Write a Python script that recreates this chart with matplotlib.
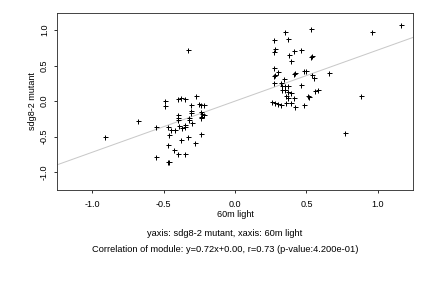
import numpy as np
import matplotlib
matplotlib.use("Agg")
import matplotlib.pyplot as plt

plt.rcParams['font.family'] = ['Liberation Sans', 'DejaVu Sans']

# 60m light (x) vs sdg8-2 mutant (y)
x_vals = [-0.91, -0.68, -0.55, -0.55, -0.49, -0.49, -0.47, -0.47, -0.46, -0.47,
          -0.45, -0.46, -0.43, -0.42, -0.40, -0.40, -0.38, -0.35, -0.40, -0.40,
          -0.40, -0.39, -0.37, -0.35, -0.35, -0.38, -0.35, -0.33, -0.33, -0.32,
          -0.32, -0.31, -0.31, -0.30, -0.31, -0.27, -0.25, -0.24, -0.22, -0.24,
          -0.23, -0.22, -0.24, -0.24, -0.24, -0.28,
          0.35, 0.53, 0.27, 0.37, 0.28, 0.27, 0.41, 0.38, 0.46, 0.53,
          0.54, 0.39, 0.27, 0.30, 0.27, 0.28, 0.41, 0.42, 0.48, 0.50,
          0.66, 0.54, 0.55, 0.34, 0.27, 0.32, 0.33, 0.35, 0.37, 0.46,
          0.33, 0.35, 0.37, 0.39, 0.36, 0.37, 0.41, 0.51, 0.52, 0.56,
          0.58, 0.26, 0.28, 0.30, 0.32, 0.36, 0.39, 0.42, 0.48, 0.88,
          0.77, 0.96, 1.16]
y_vals = [-0.51, -0.28, -0.37, -0.79, 0.00, -0.07, -0.61, -0.86, -0.85, -0.37,
          -0.40, -0.48, -0.69, -0.40, -0.75, 0.03, 0.04, 0.03, -0.20, -0.24,
          -0.26, -0.35, -0.38, -0.37, -0.34, -0.55, -0.74, -0.51, 0.72, -0.24,
          -0.26, -0.14, -0.17, -0.31, -0.06, 0.07, -0.04, -0.06, -0.06, -0.15,
          -0.18, -0.20, -0.24, -0.22, -0.46, -0.59,
          0.97, 1.01, 0.86, 0.88, 0.74, 0.69, 0.70, 0.65, 0.72, 0.62,
          0.63, 0.56, 0.47, 0.41, 0.35, 0.37, 0.38, 0.40, 0.42, 0.43,
          0.40, 0.37, 0.32, 0.31, 0.25, 0.25, 0.21, 0.21, 0.21, 0.23,
          0.15, 0.15, 0.13, 0.11, 0.07, 0.04, 0.04, 0.07, 0.06, 0.14,
          0.15, -0.01, -0.03, -0.04, -0.05, -0.03, -0.03, -0.08, -0.06, 0.07,
          -0.45, 0.97, 1.07]

slope = 0.72
intercept = 0.00
r_value = 0.73
p_value = 4.2e-01
ticks = [-1.0, -0.5, 0.0, 0.5, 1.0]

fig = plt.figure(figsize=(6, 4), dpi=72)
ax = fig.add_axes([57/432, 1 - 190/288, 356/432, 177/288])

ax.axline((0, intercept), slope=slope, color='#c8c8c8', lw=1.0, zorder=1)
ax.plot(x_vals, y_vals, '+', color='black', ms=5, mew=1.0, zorder=2)

ax.set_xlim(-1.245, 1.245)
ax.set_ylim(-1.25, 1.24)
ax.set_xticks(ticks)
ax.set_yticks(ticks)
ax.set_xticklabels([f"{t:.1f}" for t in ticks])
ax.set_yticklabels([f"{t:.1f}" for t in ticks], rotation=90, va='center')
ax.tick_params(direction='out', length=3, width=0.8, labelsize=9, pad=7)
ax.tick_params(axis='y', pad=5)
for s in ax.spines.values():
    s.set_linewidth(0.9)
    s.set_color('#333333')

ax.set_xlabel("60m light", fontsize=9, labelpad=1)
ax.set_ylabel("sdg8-2 mutant", fontsize=9, labelpad=3)

cx = 225 / 432
fig.text(cx, 1 - 233/288, "yaxis: sdg8-2 mutant, xaxis: 60m light",
         ha='center', va='center', fontsize=9.2)
fig.text(cx, 1 - 250/288,
         f"Correlation of module: y={slope:.2f}x+{intercept:.2f}, r={r_value:.2f} (p-value:{p_value:.3e})",
         ha='center', va='center', fontsize=9.2)

fig.savefig("out.png", dpi=72)
